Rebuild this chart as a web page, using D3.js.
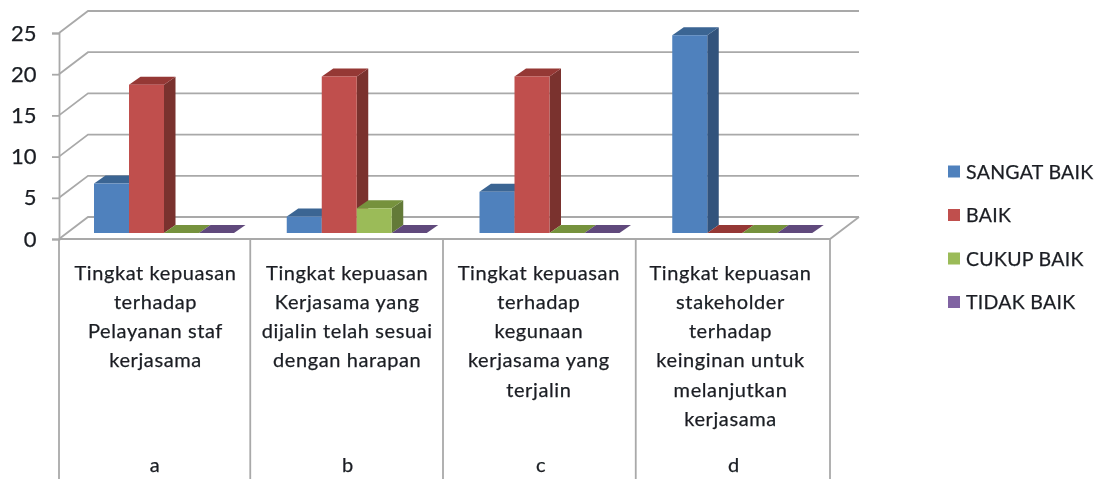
<!DOCTYPE html>
<html lang="en">
  <head>
    <meta charset="UTF-8" />
    <title>Tingkat kepuasan</title>
    <script src="https://d3js.org/d3.v7.min.js"></script>
    <style>
      body { margin:0; background:#fff; }
      svg { display:block; }
      text { font-family:Lato, "Open Sans", sans-serif; fill:#1b1f24; stroke:#1b1f24; stroke-width:0.25px; }
    </style>
  </head>
  <body>
    <svg width="1100" height="479"></svg>
    <script>
      // values
      const categories = ["a", "b", "c", "d"];
      const seriesNames = ["SANGAT BAIK", "BAIK", "CUKUP BAIK", "TIDAK BAIK"];
      const sangatBaik = [6, 2, 5, 24];
      const baik = [18, 19, 19, 0];
      const cukupBaik = [0, 3, 0, 0];
      const tidakBaik = [0, 0, 0, 0];
      const yTicks = [0, 5, 10, 15, 20, 25];
      const categoryLabels = [
        ["Tingkat kepuasan", "terhadap", "Pelayanan staf", "kerjasama"],
        ["Tingkat kepuasan", "Kerjasama yang", "dijalin telah sesuai", "dengan harapan"],
        ["Tingkat kepuasan", "terhadap", "kegunaan", "kerjasama yang", "terjalin"],
        ["Tingkat kepuasan", "stakeholder", "terhadap", "keinginan untuk", "melanjutkan", "kerjasama"]
      ];
      const seriesValues = [sangatBaik, baik, cukupBaik, tidakBaik];
      const faceColors = ["#4f81bd", "#c0504d", "#9bbb59", "#8064a2"];
      const topColors = ["#3b6593", "#953735", "#76923c", "#604a7b"];
      const sideColors = ["#31527b", "#7a302e", "#647a39", "#4f3d64"];

      const svg = d3.select("svg");
      // slight blur, the reference is an enlarged screenshot
      svg.append("filter").attr("id", "soft")
        .append("feGaussianBlur").attr("stdDeviation", 0.55);
      const root = svg.append("g").attr("filter", "url(#soft)");

      const x = d3.scaleBand().domain(categories).range([59, 830]);
      const y = d3.scaleLinear().domain([0, 25]).range([239, 33]);
      const barX = d3.scaleBand().domain(d3.range(4)).range([35, 175]);
      const labelX = d3.scalePoint().domain(categories).range([155.5, 730.5]); // wrapped text
      const letterX = d3.scalePoint().domain(categories).range([155, 734]);
      const wallDx = 29, wallDy = -22; // how far the back wall sits from the front edge
      const barDy = -6;                // bars stand a bit behind the front edge
      const depthX = 11.5, depthY = -8;

      // walls
      const grid = root.append("g").attr("fill", "none")
        .attr("stroke", "#a9a9a9").attr("stroke-width", 1.8);
      yTicks.forEach((t) => {
        grid.append("path").attr("d", `M${x.range()[0]},${y(t)}l${wallDx},${wallDy}L${x.range()[1] + wallDx},${y(t) + wallDy}`);
      });
      grid.append("path").attr("d", `M${x.range()[0]},${y(0)}H${x.range()[1]}l${wallDx},${wallDy}`);

      // axis, ticks and the table lines below the floor
      const yAxis = root.append("g")
        .attr("transform", `translate(${x.range()[0]},0)`)
        .call(d3.axisLeft(y).tickValues(yTicks).tickSize(7).tickPadding(15));
      yAxis.select(".domain").attr("stroke", "#a9a9a9").attr("stroke-width", 1.8);
      yAxis.selectAll("line").attr("stroke", "#a9a9a9").attr("stroke-width", 1.8);
      yAxis.selectAll("text").style("font-size", "22px").style("font-family", "Lato").attr("dx", "-0.5");

      const edges = categories.map((c, i) => x(c) - (i ? 1.5 : 0)).concat(x.range()[1]);
      root.append("g").selectAll("line").data(edges).enter().append("line")
        .attr("x1", (d) => d).attr("x2", (d) => d)
        .attr("y1", y(0)).attr("y2", 479)
        .attr("stroke", "#a9a9a9").attr("stroke-width", 1.8);

      // bars, one series after the other so the later ones cover the earlier sides
      seriesValues.forEach((values, s) => {
        const g = root.append("g");
        values.forEach((v, i) => {
          const x0 = x(categories[i]) + barX(s);
          const w = barX.bandwidth();
          const yb = y(0) + barDy;
          const yt = y(v) + barDy;
          g.append("path").attr("fill", sideColors[s])
            .attr("d", `M${x0 + w},${yb}V${yt}l${depthX},${depthY}V${yb + depthY}Z`);
          g.append("path").attr("fill", topColors[s])
            .attr("d", `M${x0},${yt}H${x0 + w}l${depthX},${depthY}H${x0 + depthX}Z`);
          g.append("rect").attr("fill", faceColors[s])
            .attr("x", x0).attr("y", yt).attr("width", w).attr("height", yb - yt);
        });
      });

      // category labels
      const labels = root.append("g").attr("text-anchor", "middle")
        .style("font-size", "20px").style("letter-spacing", "0.6px");
      categories.forEach((c, i) => {
        categoryLabels[i].forEach((line, k) => {
          labels.append("text").attr("x", labelX(c)).attr("y", 279.5 + k * 29.3).text(line);
        });
        labels.append("text").attr("x", letterX(c)).attr("y", 472).text(c);
      });

      // legend
      const legendY = d3.scalePoint().domain(seriesNames).range([171.5, 302]);
      const legend = root.append("g").selectAll("g").data(seriesNames).enter().append("g")
        .attr("transform", (d) => `translate(948,${legendY(d)})`);
      legend.append("rect").attr("y", -6).attr("width", 12).attr("height", 12)
        .attr("fill", (d, i) => faceColors[i]);
      legend.append("text").attr("x", 18).attr("y", 7)
        .style("font-size", "19.5px").style("letter-spacing", "0.3px").text((d) => d);
    </script>
  </body>
</html>
